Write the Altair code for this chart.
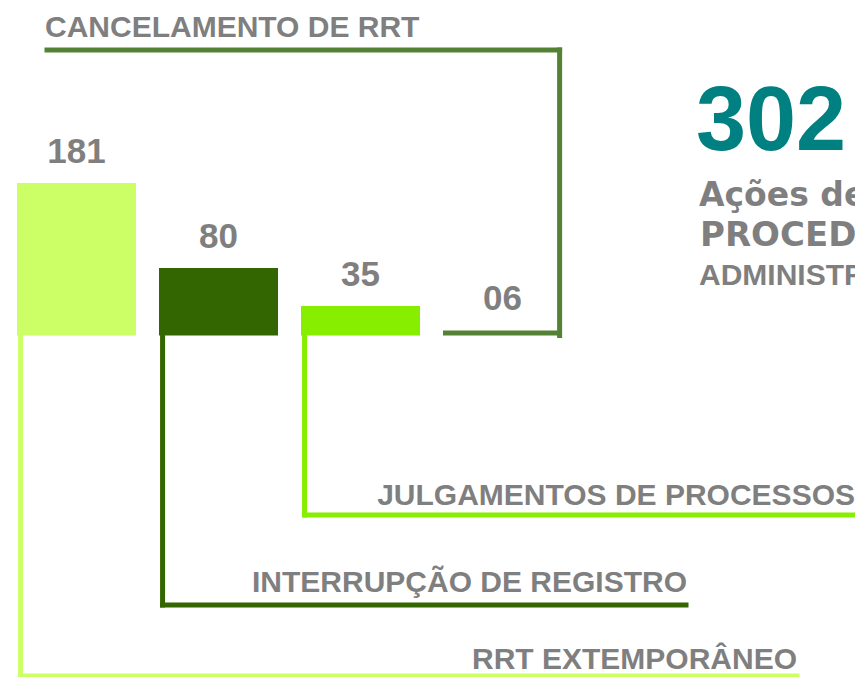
import altair as alt
import pandas as pd

# ---------------- data ----------------
categories = ["RRT EXTEMPORÂNEO", "INTERRUPÇÃO DE REGISTRO", "JULGAMENTOS DE PROCESSOS", "CANCELAMENTO DE RRT"]
values = [181, 80, 35, 6]
value_labels = ["181", "80", "35", "06"]
headline_lines = ["Ações de", "PROCEDIMENTOS", "ADMINISTRATIVOS"]

# ---------------- styles / layout ----------------
colors = ["#CCFF66", "#336600", "#88EE00", "#548235"]
GRAY = "#7F7F7F"
TEAL = "#008080"
FONT = "Liberation Sans"
OFF = 8  # page margin
W, H = 847, 669

# connector layout (page pixels)
conn_level = [676, 605, 515, 50]
conn_end = [797, 686, 875, 47]
conn_band = [0.03, 0.03, 0.03, 0.98]
conn_width = [5, 5, 5, 5]
label_x = [797, 687, 855, 45]
label_y = [669, 592, 505, 37]
label_align = ["right", "right", "right", "left"]

df = pd.DataFrame({"cat": categories, "value": values, "label": value_labels})
total = sum(values)

x_scale = alt.Scale(domain=categories, range=[9, 554], paddingInner=0.162, paddingOuter=0)
y_scale = alt.Scale(domain=[0, 181], range=[327.5, 175], nice=False)
color_scale = alt.Scale(domain=categories, range=colors)

layers = []

for i, cat in enumerate(categories):
    base = alt.Chart(df).transform_filter(alt.datum.cat == cat)
    xenc = alt.X("cat:N", bandPosition=conn_band[i], scale=x_scale, axis=None)
    vert = base.mark_rule(strokeWidth=conn_width[i], color=colors[i], strokeCap="square").encode(
        x=xenc,
        y=alt.Y(datum=0, type="quantitative", scale=y_scale, axis=None),
        y2=alt.value(conn_level[i] - OFF),
    )
    horiz = base.mark_rule(strokeWidth=conn_width[i], color=colors[i], strokeCap="square").encode(
        x=xenc,
        x2=alt.value(conn_end[i] - OFF),
        y=alt.value(conn_level[i] - OFF),
    )
    lab = base.mark_text(
        font=FONT, fontWeight="bold", fontSize=30, color=GRAY,
        align=label_align[i], baseline="alphabetic",
    ).encode(
        x=alt.value(label_x[i] - OFF),
        y=alt.value(label_y[i] - OFF),
        text="cat:N",
    )
    layers += [vert, horiz, lab]

bars = alt.Chart(df).mark_bar().encode(
    x=alt.X("cat:N", scale=x_scale, axis=None),
    y=alt.Y("value:Q", scale=y_scale, axis=None),
    color=alt.Color("cat:N", scale=color_scale, legend=None),
)

vals = alt.Chart(df).mark_text(
    font=FONT, fontWeight="bold", fontSize=35, color=GRAY, baseline="alphabetic", dy=-20
).encode(
    x=alt.X("cat:N", scale=x_scale, axis=None),
    y=alt.Y("value:Q", scale=y_scale, axis=None),
    text="label:N",
)

head_df = pd.DataFrame({"t": [str(total)]})
big = alt.Chart(head_df).mark_text(
    font=FONT, fontWeight="bold", fontSize=90, color=TEAL, align="left", baseline="alphabetic"
).encode(x=alt.value(696 - OFF), y=alt.value(150 - OFF), text="t:N")

sub_df = pd.DataFrame({"t": headline_lines})
sub1 = alt.Chart(sub_df).transform_filter(alt.datum.t == headline_lines[0]).mark_text(
    font="DejaVu Sans", fontWeight="bold", fontSize=33, color=GRAY, align="left", baseline="alphabetic"
).encode(x=alt.value(699 - OFF), y=alt.value(206 - OFF), text="t:N")
sub2 = alt.Chart(sub_df).transform_filter(alt.datum.t == headline_lines[1]).mark_text(
    font="DejaVu Sans", fontWeight="bold", fontSize=34, color=GRAY, align="left", baseline="alphabetic"
).encode(x=alt.value(700 - OFF), y=alt.value(246 - OFF), text="t:N")
sub3 = alt.Chart(sub_df).transform_filter(alt.datum.t == headline_lines[2]).mark_text(
    font=FONT, fontWeight="bold", fontSize=30, color=GRAY, align="left", baseline="alphabetic"
).encode(x=alt.value(699 - OFF), y=alt.value(285 - OFF), text="t:N")

chart = alt.layer(*layers, bars, vals, big, sub1, sub2, sub3).properties(
    width=W, height=H, padding=0, autosize="none", background="white"
).configure_view(stroke=None)

chart.save("out.html", embed_options={"renderer": "svg", "actions": False})
